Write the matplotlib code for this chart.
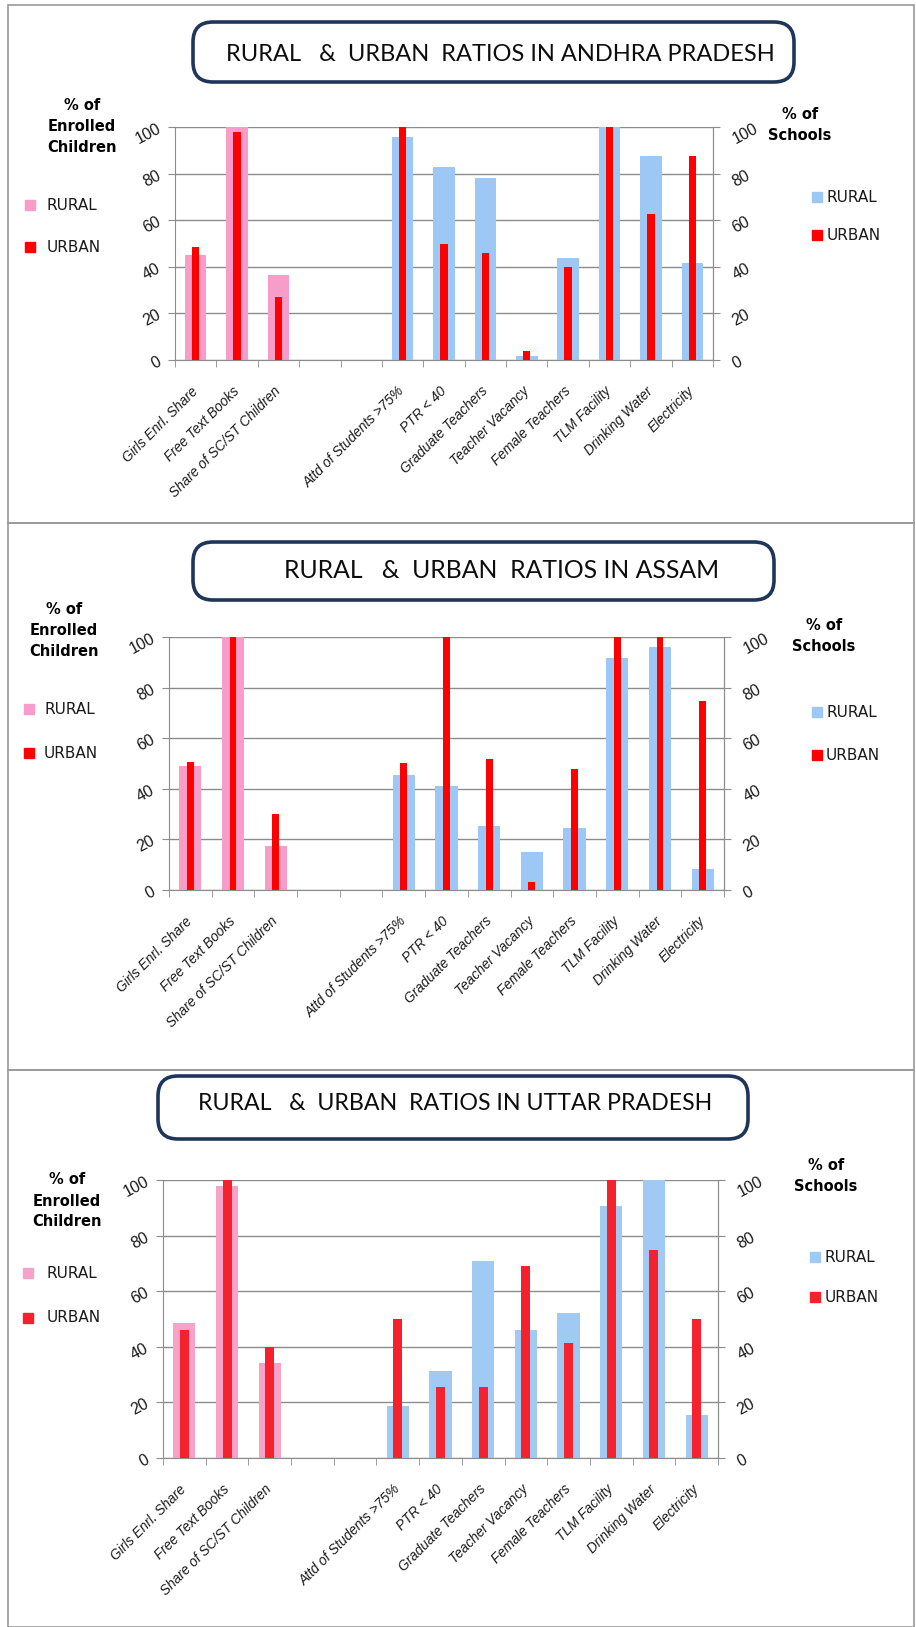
import numpy as np
import matplotlib
matplotlib.use('Agg')
import matplotlib.pyplot as plt
import matplotlib.transforms as mtransforms
from matplotlib.patches import FancyBboxPatch, Rectangle

nan = np.nan

categories = ["Girls Enrl. Share", "Free Text Books", "Share of SC/ST Children", "", "",
              "Attd of Students >75%", "PTR < 40", "Graduate Teachers", "Teacher Vacancy",
              "Female Teachers", "TLM Facility", "Drinking Water", "Electricity"]
yticks = [0, 20, 40, 60, 80, 100]

# rural / urban values, first three are % of enrolled children, rest % of schools
ap_rural = [45, 100, 36.5, nan, nan, 95.7, 83, 78, 1.7, 43.6, 100, 87.5, 41.5]
ap_urban = [48.5, 98, 27, nan, nan, 100, 49.7, 46, 4, 40, 100, 62.5, 87.5]

as_rural = [49.2, 100, 17.5, nan, nan, 45.5, 41.3, 25.3, 15.2, 24.5, 91.7, 96, 8.2]
as_urban = [50.5, 100, 30, nan, nan, 50, 100, 51.8, 3.3, 47.8, 100, 100, 74.8]

up_rural = [48.5, 97.8, 34, nan, nan, 18.8, 31.3, 71, 46.1, 52.3, 90.7, 100, 15.6]
up_urban = [46, 100, 40, nan, nan, 50, 25.5, 25.5, 69, 41.3, 100, 75, 50]

titles = ["RURAL   &  URBAN  RATIOS IN ANDHRA PRADESH",
          "RURAL   &  URBAN  RATIOS IN ASSAM",
          "RURAL   &  URBAN  RATIOS IN UTTAR PRADESH"]

W, H = 916, 1627
fig = plt.figure(figsize=(W / 100, H / 100), dpi=100, facecolor='white')

# pixel-space layer for frames, title boxes and side labels
bg = fig.add_axes([0, 0, 1, 1], zorder=-1)
bg.set_xlim(0, W)
bg.set_ylim(H, 0)
bg.axis('off')

grey = '#8c8c8c'
txt = '#1a1a1a'


def rect(x0, x1, y0, y1):
    return [x0 / W, 1 - y1 / H, (x1 - x0) / W, (y1 - y0) / H]


def draw_panel(box, rural, urban, cols, red_w):
    ax = fig.add_axes(rect(*box))
    x = np.arange(len(categories))
    rural_cols = [cols[0]] * 3 + [cols[1]] * (len(categories) - 3)
    ax.bar(x, rural, width=0.52, color=rural_cols, zorder=2)
    ax.bar(x, urban, width=red_w, color=cols[2], zorder=3)
    ax.set_xlim(-0.5, len(categories) - 0.5)
    ax.set_ylim(0, 100)
    ax.set_yticks(yticks)
    ax.set_yticklabels([str(v) for v in yticks], rotation=28, fontsize=11.5,
                       family='Liberation Sans', color=txt)
    ax.yaxis.grid(True, color=grey, lw=1, zorder=0)
    ax.set_xticks(x)
    ax.set_xticklabels(categories, rotation=45, ha='right', va='center',
                       rotation_mode='anchor', fontsize=9.8, style='italic',
                       family='Liberation Sans', color=txt)
    shift = mtransforms.ScaledTranslation(0.03, 0, fig.dpi_scale_trans)
    for lbl in ax.get_xticklabels():
        lbl.set_transform(lbl.get_transform() + shift)
    ax.set_xticks(np.arange(-0.5, len(categories)), minor=True)
    ax.tick_params(axis='x', which='major', length=0, pad=21)
    ax.tick_params(axis='x', which='minor', length=5, color=grey, direction='out')
    ax.tick_params(axis='y', length=5, color=grey, pad=3.5)
    ax.spines['top'].set_visible(False)
    for s in ['left', 'right', 'bottom']:
        ax.spines[s].set_color(grey)
    ax2 = ax.twinx()
    ax2.set_ylim(0, 100)
    ax2.set_yticks(yticks)
    ax2.set_yticklabels([str(v) for v in yticks], rotation=28, fontsize=11.5,
                        family='Liberation Sans', color=txt)
    ax2.tick_params(axis='y', length=5, color=grey, pad=7)
    for s in ['top', 'left', 'bottom']:
        ax2.spines[s].set_visible(False)
    ax2.spines['right'].set_color(grey)
    return ax


def title_box(x0, x1, y0, y1, tx, ty, text, size):
    bg.add_patch(FancyBboxPatch((x0, y0), x1 - x0, y1 - y0,
                                boxstyle='round,pad=0,rounding_size=20',
                                fc='white', ec='#1f355a', lw=2.6))
    bg.text(tx, ty, text, ha='center', va='center', fontsize=size,
            family='Lato', color='#0d0d0d')


def side_labels(lx, ly, rx, ry, leg_l, leg_r, cols):
    bg.text(lx, ly, "% of\nEnrolled\nChildren", ha='center', va='center',
            fontsize=10.5, fontweight='bold', family='DejaVu Sans', linespacing=1.5)
    bg.text(rx, ry, "% of\nSchools", ha='center', va='center',
            fontsize=10.5, fontweight='bold', family='DejaVu Sans', linespacing=1.5)
    for (sx, tx, y1, y2), c in [(leg_l, cols[0]), (leg_r, cols[1])]:
        bg.add_patch(Rectangle((sx - 5, y1 - 5), 10, 10, color=c))
        bg.add_patch(Rectangle((sx - 5, y2 - 5), 10, 10, color=cols[2]))
        bg.text(tx, y1, "RURAL", va='center', fontsize=11, family='DejaVu Sans', color=txt)
        bg.text(tx, y2, "URBAN", va='center', fontsize=11, family='DejaVu Sans', color=txt)


# panel frames
for y0, y1 in [(5, 523), (523, 1070), (1070, 1627)]:
    bg.add_patch(Rectangle((8, y0), 906, y1 - y0, fill=False, ec='#9a9a9a', lw=1.2))

cols12 = ['#f89cc9', '#9dc8f5', '#ff0000']
cols3 = ['#f7a2c9', '#a0c9f3', '#f5222d']

draw_panel((175, 713, 127, 360), ap_rural, ap_urban, cols12, 0.18)
title_box(193, 794, 22, 82, 500, 54, titles[0], 17)
side_labels(82, 126, 800, 125, (30, 47, 205, 247), (817, 827, 197, 235), cols12)

draw_panel((169, 724, 637, 890), as_rural, as_urban, cols12, 0.16)
title_box(193, 774, 542, 600, 502, 571, titles[1], 17.8)
side_labels(64, 630, 824, 636, (29, 44, 709, 753), (817, 826, 712, 755), cols12)

draw_panel((163, 718, 1180, 1458), up_rural, up_urban, cols3, 0.21)
title_box(158, 748, 1076, 1139, 455, 1103, titles[2], 16.7)
side_labels(67, 1201, 826, 1176, (28, 47, 1273, 1318), (815, 825, 1257, 1297), cols3)

fig.savefig('out.png', dpi=100, facecolor='white')
